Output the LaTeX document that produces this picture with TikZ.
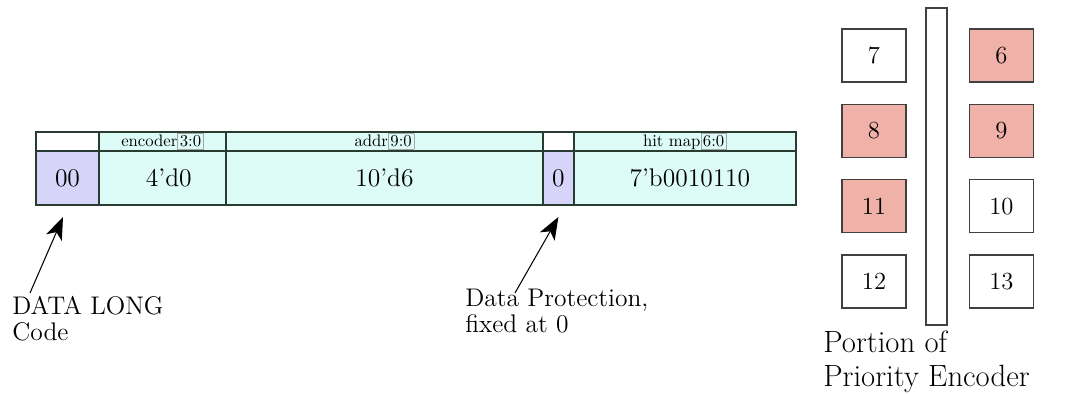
\documentclass[tikz,border=0pt]{standalone}
\usepackage{xcolor}
\usepackage{tikz}
\usetikzlibrary{arrows.meta, positioning}
\definecolor{cellcyan}{RGB}{221,252,248}
\definecolor{cellblue}{RGB}{214,212,248}
\definecolor{cellred}{RGB}{240,178,168}
\definecolor{regline}{RGB}{40,60,50}
\setlength{\fboxsep}{1pt}
\setlength{\fboxrule}{0.4pt}
\newcommand{\bits}[2]{#1\fcolorbox{black!35}{cellcyan}{#2}}

\begin{document}
\begin{tikzpicture}[
  x=0.02cm, y=-0.02cm,
  cell/.style={rectangle, draw=regline, line width=1pt, outer sep=0pt, inner sep=0pt, minimum height=1.08cm, font=\fontsize{14.5}{16}\selectfont},
  hcell/.style={rectangle, draw=regline, line width=1pt, outer sep=0pt, inner sep=0pt, minimum height=0.38cm, font=\fontsize{9.5}{10}\selectfont},
  note/.style={align=left, inner sep=0pt, anchor=north west, font=\fontsize{14.5}{14.5}\selectfont},
  pbox/.style={rectangle, draw=black!75, line width=0.8pt, minimum width=1.28cm, minimum height=1.06cm, font=\fontsize{14}{16}\selectfont},
  arrow/.style={-{Stealth[length=4.5mm, width=3.4mm, inset=1.2mm]}, semithick},
]
\useasboundingbox (0,0) rectangle (1072,394);

% Data word
\node[cell, fill=cellblue, minimum width=1.26cm, anchor=north west] at (36,151) (code) {00};
\node[cell, fill=cellcyan, minimum width=2.54cm, right=0pt of code] (enc) {\hspace{0.25cm}4'd0};
\node[cell, fill=cellcyan, minimum width=6.34cm, right=0pt of enc] (addr) {10'd6};
\node[cell, fill=cellblue, minimum width=0.62cm, right=0pt of addr] (prot) {0};
\node[cell, fill=cellcyan, minimum width=4.44cm, right=0pt of prot] (hitmap) {\hspace{0.2cm}7'b0010110};

% Field names
\node[hcell, fill=white, minimum width=1.26cm, above=0pt of code] (codeh) {};
\node[hcell, fill=cellcyan, minimum width=2.54cm, above=0pt of enc] (ench) {\bits{encoder}{3:0}};
\node[hcell, fill=cellcyan, minimum width=6.34cm, above=0pt of addr] (addrh) {\bits{addr}{9:0}};
\node[hcell, fill=white, minimum width=0.62cm, above=0pt of prot] (proth) {};
\node[hcell, fill=cellcyan, minimum width=4.44cm, above=0pt of hitmap] (hitmaph) {\bits{hit map}{6:0}};

% Notes
\node[note] at (12,296) (codenote) {DATA LONG\\Code};
\node[note] at (465,289) (protnote) {Data Protection,\\fixed at 0};
\draw[arrow] ([xshift=0.36cm, yshift=0.06cm]codenote.north west) -- ([xshift=-0.09cm, yshift=-0.24cm]code.south);
\draw[arrow] ([xshift=1.0cm, yshift=-0.08cm]protnote.north west) -- ([yshift=-0.24cm]prot.south);

% Priority encoder
\node[draw=black!75, line width=0.8pt, minimum width=0.42cm, minimum height=6.34cm, inner sep=0pt] at (936.5,166.5) (bar) {};
\node[pbox] at (874,55.5) (p7) {7};
\node[pbox, fill=cellred, below=0.42cm of p7] (p8) {8};
\node[pbox, fill=cellred, below=0.42cm of p8] (p11) {11};
\node[pbox, below=0.42cm of p11] (p12) {12};
\node[pbox, fill=cellred, right=1.24cm of p7] (p6) {6};
\node[pbox, fill=cellred, right=1.24cm of p8] (p9) {9};
\node[pbox, right=1.24cm of p11] (p10) {10};
\node[pbox, right=1.24cm of p12] (p13) {13};
\node[note, font=\fontsize{17.5}{19}\selectfont] at (823,331) (penc) {Portion of\\Priority Encoder};

\end{tikzpicture}
\end{document}
